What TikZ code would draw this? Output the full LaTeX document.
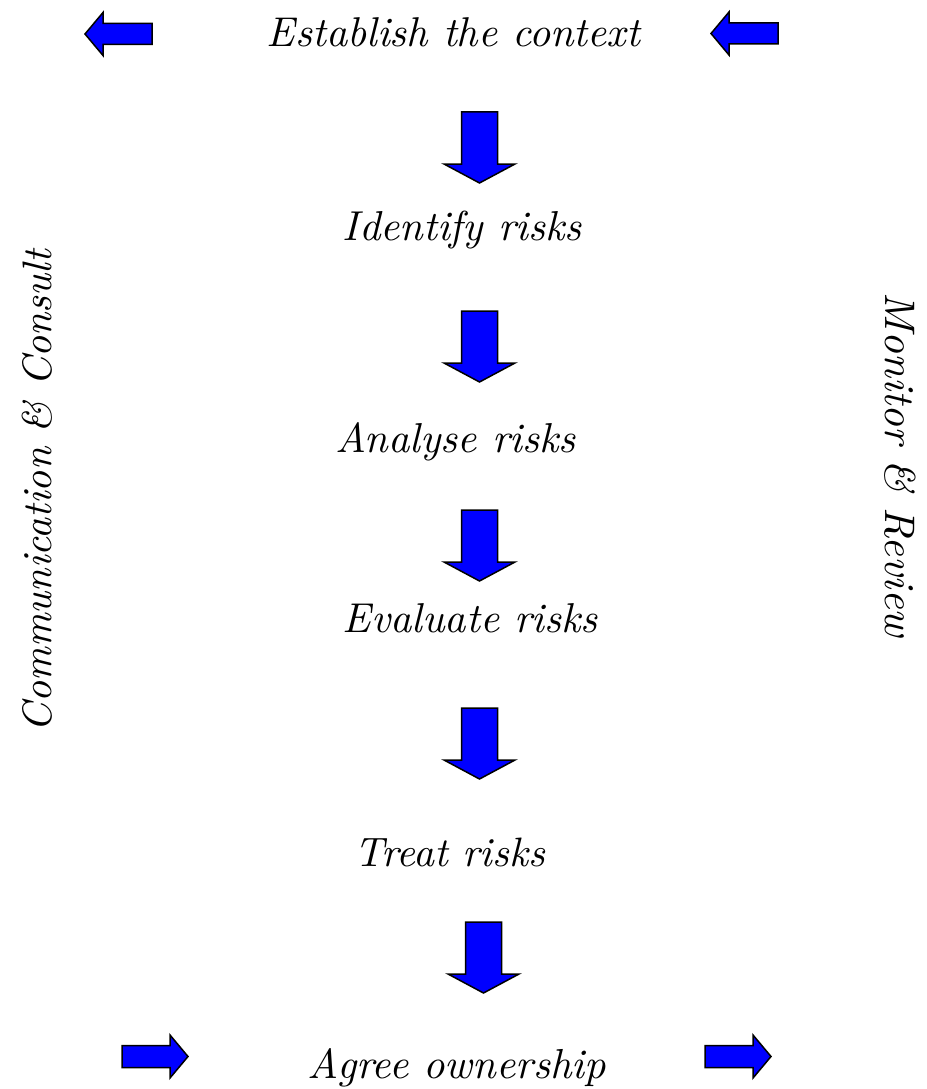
\documentclass[tikz,border=0pt]{standalone}
\usepackage{graphicx}
\definecolor{arrowblue}{RGB}{0,0,255}
\tikzset{
  blockarrow/.style={draw=black, fill=arrowblue, line width=1.5pt, line join=miter},
  stage/.style={anchor=base, inner sep=0pt, outer sep=0pt},
  % downward block arrow, origin at top centre of the shaft
  pics/downblock/.style={code={
    \draw[blockarrow] (-18,0) -- (18,0) -- (18,52) -- (35.5,52) -- (0,71)
      -- (-35.5,52) -- (-18,52) -- cycle;}},
  % leftward block arrow, origin at the tip
  pics/leftblock/.style={code={
    \draw[blockarrow] (0,0) -- (18,-21.5) -- (18,-10.5) -- (67,-10.5) -- (67,10.5)
      -- (18,10.5) -- (18,21.5) -- cycle;}},
  % rightward block arrow, origin at the tip
  pics/rightblock/.style={code={
    \draw[blockarrow] (0,0) -- (-18,-21.5) -- (-18,-11) -- (-66,-11) -- (-66,11)
      -- (-18,11) -- (-18,21.5) -- cycle;}},
}
\newcommand{\fitto}[2]{\resizebox{#1}{!}{\itshape #2}}
\begin{document}
\begin{tikzpicture}[x=1pt,y=-1pt]
  \useasboundingbox (0,0) rectangle (926,1089);

  % process steps
  \node[stage] (context)   at (453.5,47)  {\fitto{373pt}{Establish the context}};
  \node[stage] (identify)  at (462.5,240) {\fitto{239pt}{Identify risks}};
  \node[stage] (analyse)   at (456,452)   {\fitto{240pt}{Analyse risks}};
  \node[stage] (evaluate)  at (470.5,632) {\fitto{255pt}{Evaluate risks}};
  \node[stage] (treat)     at (450,866)   {\fitto{190pt}{Treat risks}};
  \node[stage] (ownership) at (457,1078)  {\fitto{298pt}{Agree ownership}};

  % side labels
  \node[stage, rotate=90]  (consult) at (52,491)  {\fitto{482pt}{Communication \& Consult}};
  \node[stage, rotate=-90] (review)  at (885,465) {\fitto{344pt}{Monitor \& Review}};

  % arrows between the steps
  \pic at (479.5,112) {downblock};
  \pic at (479.5,311) {downblock};
  \pic at (479.5,510) {downblock};
  \pic at (479.5,708) {downblock};
  \pic at (483.5,922) {downblock};

  % corner arrows
  \pic at (85,34)     {leftblock};
  \pic at (711,33.5)  {leftblock};
  \pic at (188,1056.5) {rightblock};
  \pic at (771,1056.5) {rightblock};
\end{tikzpicture}
\end{document}
